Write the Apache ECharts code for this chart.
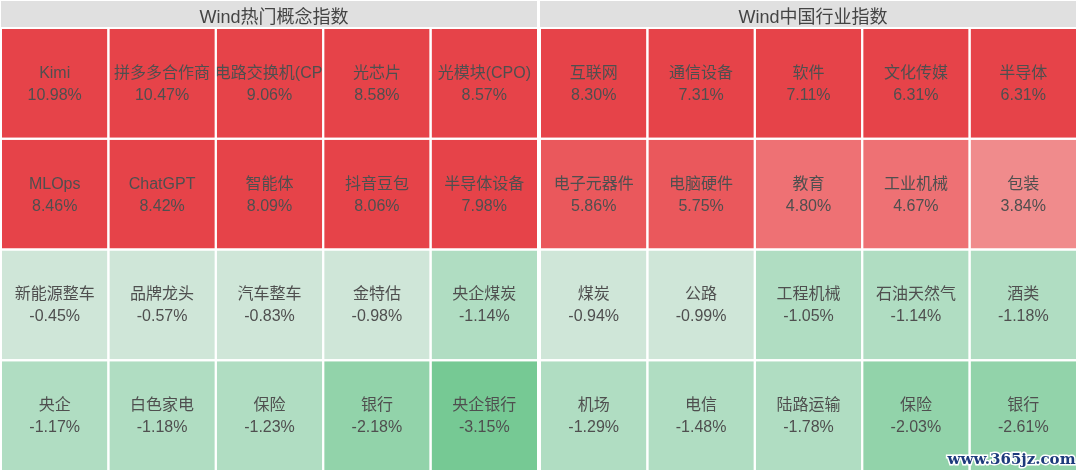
<!DOCTYPE html>
<html>
<head>
<meta charset="utf-8">
<script src="https://cdn.jsdelivr.net/npm/echarts@6/dist/echarts.min.js"></script>
<style>
html,body{margin:0;padding:0;background:#fff;}
#chart{width:1080px;height:476px;}
</style>
</head>
<body>
<div id="chart"></div>
<script>
const panelTitles = ['Wind热门概念指数', 'Wind中国行业指数'];
const leftNames = ['Kimi','拼多多合作商','光电路交换机(CPO)','光芯片','光模块(CPO)',
  'MLOps','ChatGPT','智能体','抖音豆包','半导体设备',
  '新能源整车','品牌龙头','汽车整车','金特估','央企煤炭',
  '央企','白色家电','保险','银行','央企银行'];
const leftValues = [10.98,10.47,9.06,8.58,8.57,
  8.46,8.42,8.09,8.06,7.98,
  -0.45,-0.57,-0.83,-0.98,-1.14,
  -1.17,-1.18,-1.23,-2.18,-3.15];
const rightNames = ['互联网','通信设备','软件','文化传媒','半导体',
  '电子元器件','电脑硬件','教育','工业机械','包装',
  '煤炭','公路','工程机械','石油天然气','酒类',
  '机场','电信','陆路运输','保险','银行'];
const rightValues = [8.30,7.31,7.11,6.31,6.31,
  5.86,5.75,4.80,4.67,3.84,
  -0.94,-0.99,-1.05,-1.14,-1.18,
  -1.29,-1.48,-1.78,-2.03,-2.61];
const colCats = ['0','1','2','3','4'];
const rowCats = ['0','1','2','3'];

const FONT = '"Liberation Sans","Noto Sans CJK SC",sans-serif';

function toData(values){
  return values.map((v,i)=>[i%5, Math.floor(i/5), v]);
}
function makeRender(names){
  return function(params, api){
    const c = api.coord([api.value(0), api.value(1)]);
    const s = api.size([1,1]);
    const x = c[0]-s[0]/2, y = c[1]-s[1]/2;
    const rx = x+1, ry = y+1, rw = s[0]-2, rh = s[1]-2;
    const v = api.value(2);
    return {
      type:'group',
      clipPath:{type:'rect', shape:{x:rx,y:ry,width:rw,height:rh}},
      children:[
        {type:'rect', shape:{x:rx,y:ry,width:rw,height:rh}, style:{fill:api.visual('color')}},
        {type:'text', x:c[0], y:c[1]+1, style:{
          text: names[params.dataIndex] + '\n' + v.toFixed(2) + '%',
          fill:'#4f4f4f', font:'16px '+FONT, align:'center', verticalAlign:'middle', lineHeight:22
        }}
      ]
    };
  };
}

const chart = echarts.init(document.getElementById('chart'), null, {renderer:'canvas'});
const grids = [
  {left:1, top:28, width:537, height:443},
  {left:540, top:28, width:537, height:443}
];
chart.setOption({
  backgroundColor:'#fff',
  animation:false,
  graphic:[
    {type:'rect', left:1, top:1, shape:{width:536,height:26}, style:{fill:'#E0E0E0'}},
    {type:'rect', left:540, top:1, shape:{width:536,height:26}, style:{fill:'#E0E0E0'}},
    {type:'text', right:3, bottom:7, z:100, style:{text:'www.365jz.com', font:'bold 15px "DejaVu Serif",serif', fill:'#1d3b7c', stroke:'#ffffff', lineWidth:3}}
  ],
  title:[
    {text:panelTitles[0], left:269, top:4, textAlign:'center', textStyle:{fontSize:18, fontWeight:'normal', color:'#444', fontFamily:FONT}},
    {text:panelTitles[1], left:808, top:4, textAlign:'center', textStyle:{fontSize:18, fontWeight:'normal', color:'#444', fontFamily:FONT}}
  ],
  grid:grids,
  xAxis:[0,1].map(i=>({type:'category', data:colCats, gridIndex:i, show:false, boundaryGap:true})),
  yAxis:[0,1].map(i=>({type:'category', data:rowCats, gridIndex:i, show:false, inverse:true, boundaryGap:true})),
  visualMap:{
    type:'piecewise', show:false, dimension:2, seriesIndex:[0,1],
    pieces:[
      {gte:6, color:'#E64349'},
      {gte:5, lt:6, color:'#EA585C'},
      {gte:4, lt:5, color:'#EE7174'},
      {gte:0, lt:4, color:'#F08B8C'},
      {gte:-1, lt:0, color:'#CFE6D8'},
      {gte:-2, lt:-1, color:'#B0DDC2'},
      {gte:-3, lt:-2, color:'#92D3AA'},
      {lt:-3, color:'#76C994'}
    ]
  },
  series:[
    {type:'custom', xAxisIndex:0, yAxisIndex:0, data:toData(leftValues), renderItem:makeRender(leftNames), clip:false},
    {type:'custom', xAxisIndex:1, yAxisIndex:1, data:toData(rightValues), renderItem:makeRender(rightNames), clip:false}
  ]
});
</script>
</body>
</html>
